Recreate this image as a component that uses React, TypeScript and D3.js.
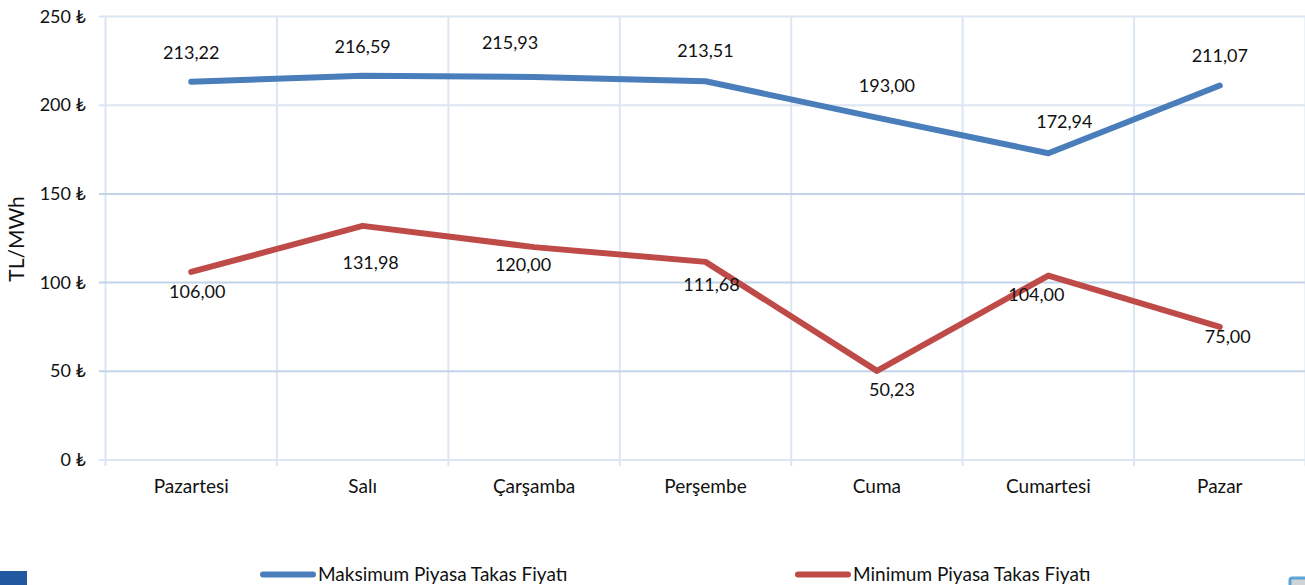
import React, { useEffect, useRef } from 'react';
import * as d3 from 'd3';

const days = ['Pazartesi', 'Salı', 'Çarşamba', 'Perşembe', 'Cuma', 'Cumartesi', 'Pazar'];
const maxValues = [213.22, 216.59, 215.93, 213.51, 193.0, 172.94, 211.07];
const minValues = [106.0, 131.98, 120.0, 111.68, 50.23, 104.0, 75.0];
const yTicks = [0, 50, 100, 150, 200, 250];

// hand placed data labels, same as in the original
const maxLabelOffsets = [[0, -29], [0, -29], [-24, -34], [0, -30], [10, -32], [16, -31], [0, -30]];
const minLabelOffsets = [[6, 20], [8, 37], [-11, 18], [6, 23], [15, 19], [-12, 19], [8, 10]];

const FONT = 'Lato, "Open Sans", sans-serif';
const GRID = '#dce6f2';
const GRID_DARK = '#c3d4e9';
const BLUE = '#4a7ebb';
const RED = '#be4b48';

const App = () => {
    const svgRef = useRef<SVGSVGElement>(null);

    useEffect(() => {
        const svg = d3.select(svgRef.current);
        //clear previous rendering
        svg.selectAll('*').remove();

        const x = d3.scaleBand().domain(days).range([105.5, 1305.5]);
        const y = d3.scaleLinear().domain([0, 250]).range([460, 16.5]);
        const cx = (d: string) => x(d)! + x.bandwidth() / 2;

        //vertical grid
        svg.append('g').selectAll('line').data([...days.map(d => x(d)!), 1305.5]).enter().append('line')
            .attr('x1', d => d).attr('x2', d => d)
            .attr('y1', 16.5).attr('y2', 466)
            .attr('stroke', GRID).attr('stroke-width', 2);

        //horizontal grid, the middle three look a bit darker in the original
        svg.append('g').selectAll('line').data(yTicks).enter().append('line')
            .attr('x1', 99).attr('x2', 1305)
            .attr('y1', d => y(d)).attr('y2', d => y(d))
            .attr('stroke', d => (d >= 50 && d <= 150 ? GRID_DARK : GRID)).attr('stroke-width', 2);

        //y axis labels
        svg.append('g').selectAll('text').data(yTicks).enter().append('text')
            .attr('x', 86).attr('y', d => y(d)).attr('dy', '0.34em')
            .attr('text-anchor', 'end').attr('font-size', 18).attr('fill', '#111')
            .attr('font-family', FONT)
            .text(d => `${d} ₺`);

        //x axis labels
        svg.append('g').selectAll('text').data(days).enter().append('text')
            .attr('x', d => cx(d)).attr('y', 487).attr('dy', '0.34em')
            .attr('text-anchor', 'middle').attr('font-size', 19).attr('fill', '#111')
            .attr('font-family', FONT)
            .text(d => d);

        //axis title
        svg.append('text')
            .attr('transform', 'translate(17,239) rotate(-90)')
            .attr('dy', '0.34em').attr('text-anchor', 'middle')
            .attr('font-size', 21).attr('fill', '#111').attr('font-family', FONT)
            .text('TL/MWh');

        const line = d3.line<number>()
            .x((_, i) => cx(days[i]))
            .y(d => y(d));

        const drawSeries = (values: number[], color: string) => {
            svg.append('path')
                .datum(values)
                .attr('fill', 'none').attr('stroke', color).attr('stroke-width', 6)
                .attr('stroke-linecap', 'round').attr('stroke-linejoin', 'round')
                .attr('d', line);
        };

        const drawLabels = (values: number[], offsets: number[][]) => {
            svg.append('g').selectAll('text').data(values).enter().append('text')
                .attr('x', (_, i) => cx(days[i]) + offsets[i][0])
                .attr('y', (d, i) => y(d) + offsets[i][1])
                .attr('dy', '0.34em').attr('text-anchor', 'middle')
                .attr('font-size', 18).attr('fill', '#111').attr('font-family', FONT)
                .text(d => d.toFixed(2).replace('.', ','));
        };

        drawSeries(maxValues, BLUE);
        drawSeries(minValues, RED);
        drawLabels(maxValues, maxLabelOffsets);
        drawLabels(minValues, minLabelOffsets);

        //legend
        const legend = [
            { name: 'Maksimum Piyasa Takas Fiyatı', color: BLUE, left: 263 },
            { name: 'Minimum Piyasa Takas Fiyatı', color: RED, left: 798 }
        ];
        legend.forEach(l => {
            svg.append('line')
                .attr('x1', l.left).attr('x2', l.left + 50)
                .attr('y1', 574.5).attr('y2', 574.5)
                .attr('stroke', l.color).attr('stroke-width', 6).attr('stroke-linecap', 'round');
            svg.append('text')
                .attr('x', l.left + 55).attr('y', 574.5).attr('dy', '0.34em')
                .attr('font-size', 19).attr('fill', '#111').attr('font-family', FONT)
                .text(l.name);
        });

        //page artefacts at the bottom corners
        svg.append('rect').attr('x', 0).attr('y', 571).attr('width', 27).attr('height', 14).attr('fill', '#22589f');
        svg.append('rect').attr('x', 1290).attr('y', 578).attr('width', 20).attr('height', 12).attr('rx', 2)
            .attr('fill', '#cfd3d6').attr('stroke', '#5aa5d6').attr('stroke-width', 3);
    }, []);

    return (
        <svg
            ref={svgRef}
            width={1305}
            height={585}
            style={{ position: 'absolute', left: 0, top: 0, display: 'block', background: '#fff' }}
        />
    );
};

export default App;
